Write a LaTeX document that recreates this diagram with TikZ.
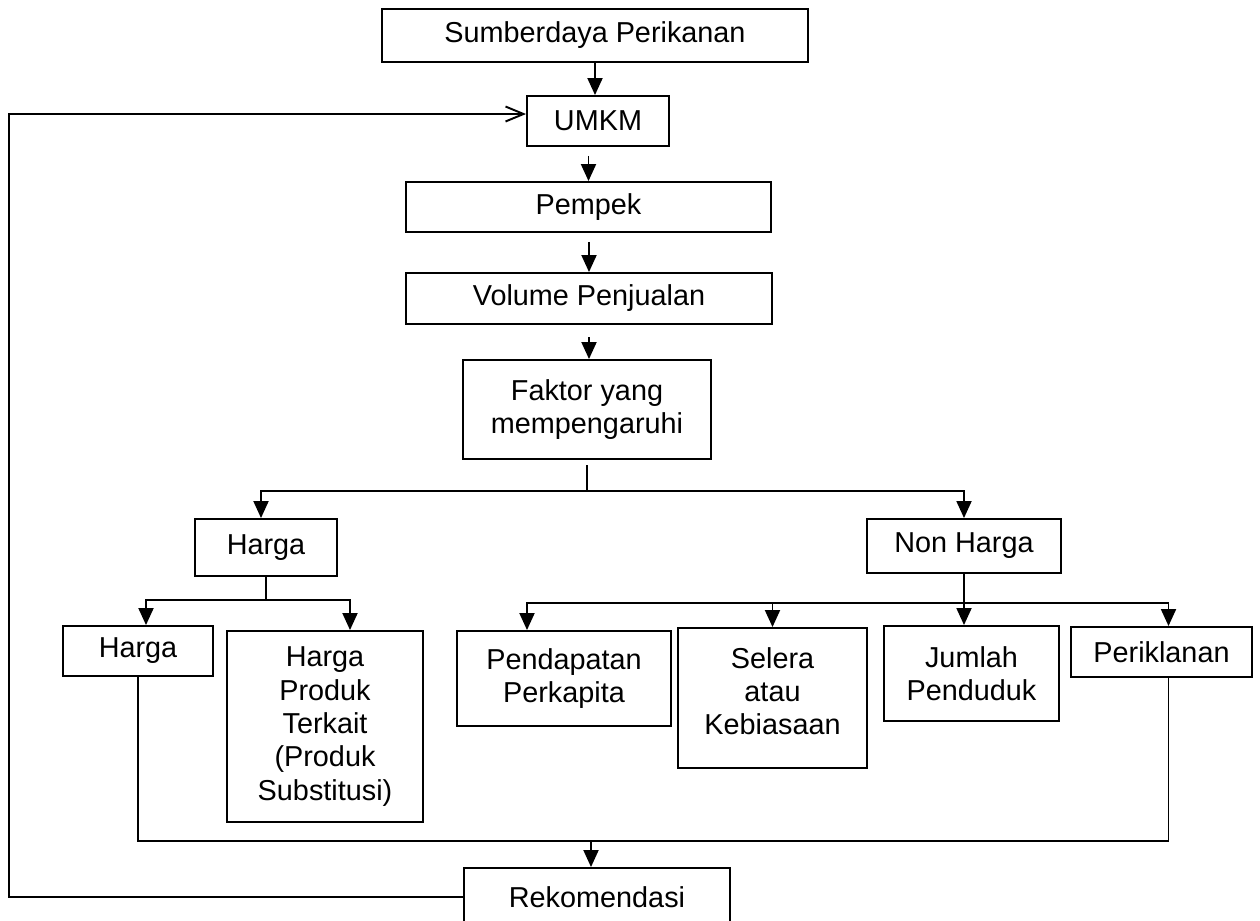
\documentclass[tikz,border=0pt]{standalone}
\usepackage{fontspec}
\setmainfont{Liberation Sans}
\usetikzlibrary{arrows.meta,calc,positioning}

\begin{document}
\begin{tikzpicture}[x=0.02cm,y=-0.02cm,
  box/.style 2 args={draw,line width=1.1pt,inner sep=0pt,align=center,
    minimum width=#1*0.02cm,minimum height=#2*0.02cm,
    font=\fontsize{16.4pt}{19pt}\selectfont},
  link/.style={line width=1.1pt},
  arr/.style={link,-{Triangle[length=0.34cm,width=0.3cm]}},
  back/.style={link,-{Straight Barb[length=0.36cm,width=0.3cm]}}]
\useasboundingbox (0,0) rectangle (1260,920);
% boxes
\node[box={426}{53}] (sumber) at (595,35.5) {Sumberdaya Perikanan};
\node[box={142}{50}] (umkm) at (598,121) {UMKM};
\node[box={365}{50}] (pempek) at (588.5,207) {Pempek};
\node[box={366}{51}] (volume) at (589,298.5) {Volume Penjualan};
\node[box={248}{99}] (faktor) at (587,409.5) {Faktor yang\\mempengaruhi};
\node[box={142}{57}] (harga) at (266,547.5) {Harga};
\node[box={194}{54}] (nonharga) at (964,546) {Non Harga};
\node[box={150}{50}] (hargasendiri) at (138,651) {Harga};
\node[box={196}{191}] (hargaterkait) at (325,726.5) {Harga\\Produk\\Terkait\\(Produk\\Substitusi)};
\node[box={214}{95}] (pendapatan) at (564,678.5) {Pendapatan\\Perkapita};
\node[box={189}{140},text depth=0.28cm] (selera) at (772.5,698) {Selera\\atau\\Kebiasaan};
\node[box={175}{95}] (jumlah) at (971.5,673.5) {Jumlah\\Penduduk};
\node[box={181}{50}] (iklan) at (1161.5,652) {Periklanan};
\node[box={266}{58}] (rekom) at (597,897) {Rekomendasi};
% main chain
\draw[arr] (sumber.south) -- (sumber.south |- umkm.north);
\draw[arr,shorten <=5pt] (pempek.north |- umkm.south) -- (pempek.north);
\draw[arr,shorten <=5pt] (volume.north |- pempek.south) -- (volume.north);
\draw[arr,shorten <=7pt] (volume.south) -- (volume.south |- faktor.north);
% split to harga / non harga
\draw[link,shorten <=3pt] (faktor.south) -- ++(0,31) coordinate (fsplit);
\draw[arr] (fsplit) -| ($(harga.north)+(-5,0)$);
\draw[arr] (fsplit) -| (nonharga.north);
% harga branch
\draw[link] (harga.south) -- ++(0,23) coordinate (hsplit);
\draw[arr] (hsplit) -| ($(hargasendiri.north)+(8,0)$);
\draw[arr] (hsplit) -| ($(hargaterkait.north)+(25,0)$);
% non harga branch
\draw[link] (nonharga.south) -- ++(0,29) coordinate (nsplit);
\draw[arr] (nsplit) -| ($(pendapatan.north)+(-37,0)$);
\draw[arr] (nsplit) -| (selera.north);
\draw[arr] (nonharga.south) -- (nonharga.south |- jumlah.north);
\draw[arr] (nsplit) -| ($(iklan.north)+(7,0)$);
% collect to rekomendasi
\coordinate (collect) at (591,841);
\draw[link] (hargasendiri.south) |- (collect) -| ($(iklan.south)+(7,0)$);
\draw[arr] (collect) -- (collect |- rekom.north);
% feedback
\coordinate (fb) at (9,114);
\draw[back] (rekom.west) -| (fb) -- (fb -| umkm.west);
\end{tikzpicture}
\end{document}
